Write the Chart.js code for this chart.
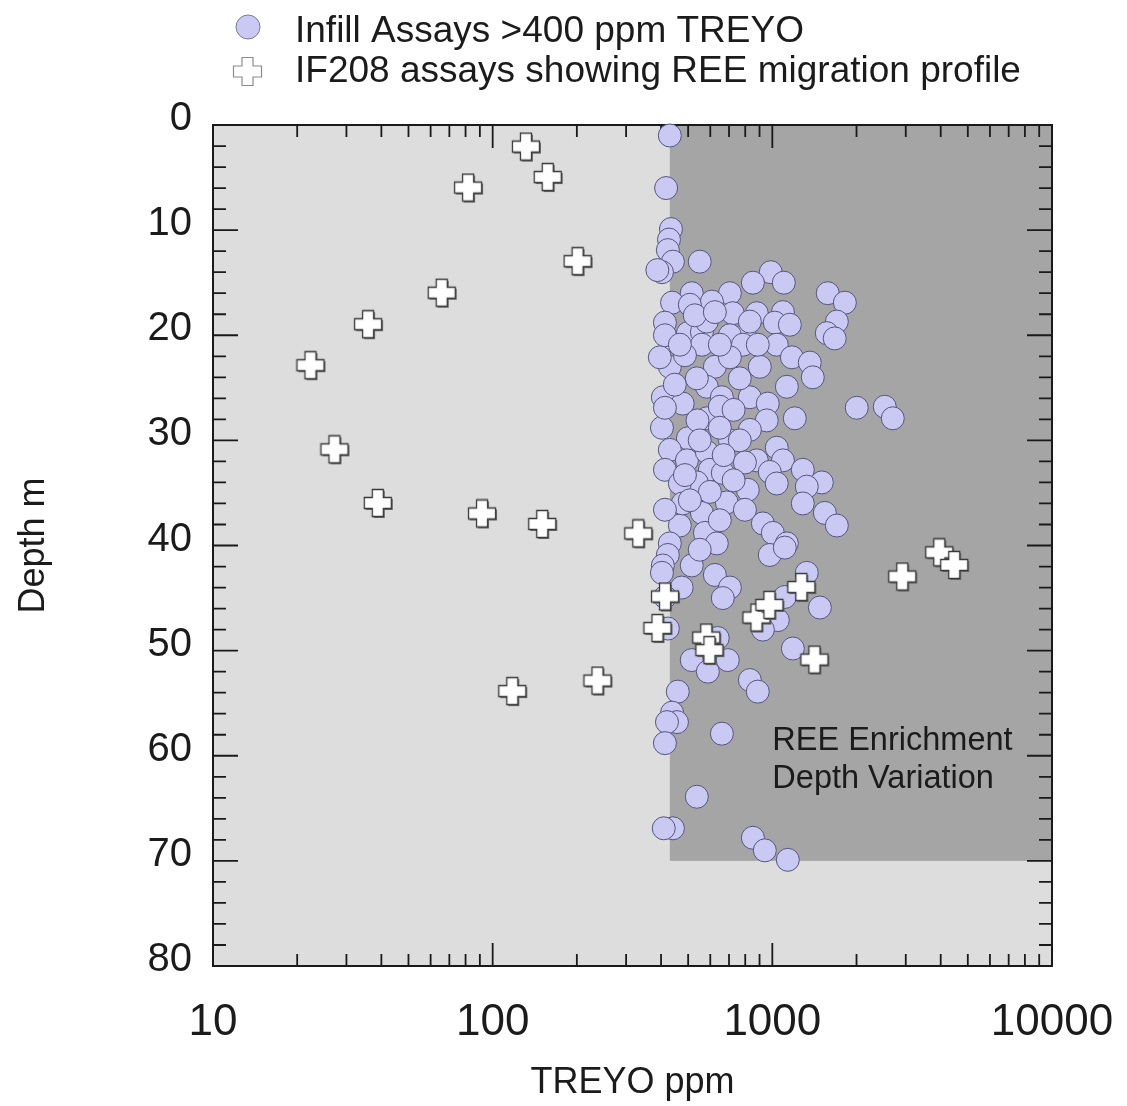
<!DOCTYPE html>
<html>
<head>
<meta charset="utf-8">
<title>TREYO vs depth</title>
<script src="https://cdn.jsdelivr.net/npm/chart.js@4.4.1/dist/chart.umd.min.js"></script>
<style>
    html, body { margin: 0; padding: 0; background: #ffffff; }
    #wrap { width: 1127px; height: 1106px; }
</style>
</head>
<body>
<div id="wrap"><canvas id="depthChart" width="1127" height="1106"></canvas></div>
<script>
const seriesNames = ['Infill Assays >400 ppm TREYO', 'IF208 assays showing REE migration profile'];

// Infill assays (circles): TREYO ppm and depth m
const infillTreyo = [
    430, 417, 434, 427, 423, 441, 403, 388, 550, 987, 852, 1099, 1578, 1817, 515, 705,
    438, 608, 507, 722, 880, 1091, 1020, 1155, 1701, 1566, 1671, 413, 413, 499, 560, 583,
    798, 705, 560, 785, 1037, 1175, 902, 1361, 1395, 430, 623, 396, 487, 705, 1127, 406,
    583, 660, 831, 963, 478, 2004, 2523, 2696, 1203, 955, 403, 413, 583, 649, 831, 499,
    705, 430, 495, 583, 413, 598, 665, 537, 467, 880, 1037, 1091, 979, 1037, 1285, 1503,
    1328, 817, 687, 1285, 1541, 1701, 560, 467, 478, 925, 1004, 574, 430, 633, 1127, 423,
    406, 515, 623, 705, 665, 474, 403, 979, 1108, 413, 1328, 1479, 1108, 1046, 925, 1184,
    423, 515, 693, 588, 638, 831, 887, 459, 438, 456, 420, 413, 660, 537, 441, 409,
    852, 940, 1136, 528, 623, 831, 467, 649, 887, 537, 765, 448, 727, 540, 649, 765,
    550, 670, 798, 487, 727, 598, 507, 798, 413, 649, 550
];
const infillDepth = [
    1.0, 6.0, 9.9, 10.9, 11.9, 13.0, 14.0, 13.8, 13.0, 14.0, 15.0, 15.0, 16.0, 16.9, 16.0, 16.0,
    16.9, 16.8, 17.1, 17.9, 17.9, 17.8, 18.8, 19.0, 18.7, 19.8, 20.3, 18.8, 20.0, 19.8, 19.7, 18.7,
    20.0, 20.0, 20.9, 20.9, 20.9, 22.1, 23.0, 22.6, 24.0, 23.0, 23.0, 22.1, 21.9, 22.1, 24.9, 25.9,
    24.9, 25.9, 25.9, 26.5, 26.5, 26.9, 26.8, 27.9, 27.9, 28.1, 28.8, 26.9, 27.9, 26.8, 29.0, 29.8,
    30.0, 30.9, 31.9, 31.1, 32.8, 32.8, 33.1, 34.0, 34.1, 31.9, 30.7, 31.9, 33.0, 34.1, 32.8, 34.0,
    34.4, 34.7, 35.9, 36.0, 36.9, 38.1, 36.9, 38.1, 36.0, 37.9, 38.8, 38.8, 39.8, 39.8, 39.8, 40.9,
    41.9, 41.9, 42.8, 44.0, 45.0, 44.0, 42.6, 40.9, 40.2, 44.9, 42.6, 45.9, 44.9, 47.1, 48.0, 49.8,
    47.9, 50.9, 50.9, 52.0, 48.8, 52.8, 53.9, 53.9, 55.9, 56.8, 56.8, 58.8, 57.9, 63.9, 66.9, 66.9,
    67.8, 69.0, 69.9, 18.1, 17.8, 18.7, 20.9, 20.9, 20.9, 24.1, 24.1, 24.7, 27.1, 28.1, 28.8, 30.0,
    30.0, 31.4, 32.1, 33.3, 33.8, 34.9, 35.7, 36.6, 36.6, 37.6, 40.4
];

// IF208 profile (crosses)
const if208Treyo = [132, 158, 82, 202, 66, 36, 22.4, 27.3, 39, 92, 151, 333, 390, 415, 238, 118,
    583, 598, 881, 980, 1275, 1420, 2927, 3970, 4490];
const if208Depth = [2.1, 5.0, 6.0, 13.0, 16.0, 19.0, 22.9, 30.9, 36.0, 37.0, 38.0, 38.9, 47.9, 44.9, 52.9, 53.9,
    48.8, 50.0, 46.9, 45.7, 44.0, 50.9, 43.0, 40.7, 41.9];

// enrichment zone: from 430 ppm upward, surface to 70 m
const enrichMinTreyo = 430;
const enrichMaxDepth = 70;
const enrichLabel = ['REE Enrichment', 'Depth Variation'];

const xTickValues = [10, 20, 30, 40, 50, 60, 70, 80, 90, 100, 200, 300, 400, 500, 600, 700, 800, 900,
    1000, 2000, 3000, 4000, 5000, 6000, 7000, 8000, 9000, 10000];
const xLabelValues = [10, 100, 1000, 10000];
const yLabelStep = 10;

const FONT = '"Liberation Sans", Arial, Helvetica, sans-serif';
const TEXT_COLOR = '#1b1b1b';
const CIRCLE_FILL = '#c9c9f4';
const CIRCLE_LINE = '#55557c';

function makePlus(size, arm, fill, stroke, lineWidth, shadow) {
    const c = document.createElement('canvas');
    c.width = size + 4;
    c.height = size + 4;
    const g = c.getContext('2d');
    const trace = (o) => {
        const a = (size - arm) / 2;
        g.beginPath();
        g.moveTo(o + a, o);
        g.lineTo(o + a + arm, o);
        g.lineTo(o + a + arm, o + a);
        g.lineTo(o + size, o + a);
        g.lineTo(o + size, o + a + arm);
        g.lineTo(o + a + arm, o + a + arm);
        g.lineTo(o + a + arm, o + size);
        g.lineTo(o + a, o + size);
        g.lineTo(o + a, o + a + arm);
        g.lineTo(o, o + a + arm);
        g.lineTo(o, o + a);
        g.lineTo(o + a, o + a);
        g.closePath();
    };
    if (shadow) {
        trace(3);
        g.fillStyle = shadow;
        g.fill();
    }
    trace(1.5);
    g.fillStyle = fill;
    g.fill();
    g.lineWidth = lineWidth;
    g.strokeStyle = stroke;
    g.stroke();
    return c;
}

const plotCross = makePlus(27, 11, '#ffffff', '#3a3a3a', 1.3, '#6b6b6b');
const legendCross = makePlus(28, 11, '#ffffff', '#8c8c8c', 1.2, null);

const backgroundPlugin = {
    id: 'zoneBackground',
    beforeDatasetsDraw(chart) {
        const { ctx, chartArea, scales } = chart;
        const { left, right, top, bottom } = chartArea;
        ctx.save();
        ctx.fillStyle = '#dcdddc';
        ctx.fillRect(left, top, right - left, bottom - top);

        const zx = scales.x.getPixelForValue(enrichMinTreyo);
        const zy = scales.y.getPixelForValue(enrichMaxDepth);
        ctx.fillStyle = '#a5a5a5';
        ctx.fillRect(zx, top, right - zx, zy - top);

        // label inside the zone, starting at 1000 ppm
        ctx.fillStyle = TEXT_COLOR;
        ctx.font = '32.5px ' + FONT;
        ctx.textBaseline = 'alphabetic';
        const tx = scales.x.getPixelForValue(1000);
        ctx.fillText(enrichLabel[0], tx, scales.y.getPixelForValue(59.5));
        ctx.fillText(enrichLabel[1], tx, scales.y.getPixelForValue(63.1));

        // frame with inward ticks on all sides
        ctx.strokeStyle = '#1a1a1a';
        ctx.lineWidth = 2;
        ctx.strokeRect(left, top, right - left, bottom - top);
        ctx.lineWidth = 1.8;
        ctx.beginPath();
        scales.x.ticks.forEach(t => {
            const px = scales.x.getPixelForValue(t.value);
            const len = xLabelValues.includes(t.value) ? 23 : 12;
            ctx.moveTo(px, bottom);
            ctx.lineTo(px, bottom - len);
            ctx.moveTo(px, top);
            ctx.lineTo(px, top + len);
        });
        scales.y.ticks.forEach(t => {
            const py = scales.y.getPixelForValue(t.value);
            const len = t.value % yLabelStep === 0 ? 25 : 13;
            ctx.moveTo(left, py);
            ctx.lineTo(left + len, py);
            ctx.moveTo(right, py);
            ctx.lineTo(right - len, py);
        });
        ctx.stroke();
        ctx.restore();
    }
};

const legendPlugin = {
    id: 'topLegend',
    afterDraw(chart) {
        const ctx = chart.ctx;
        ctx.save();
        ctx.beginPath();
        ctx.arc(248, 27, 12, 0, Math.PI * 2);
        ctx.fillStyle = CIRCLE_FILL;
        ctx.fill();
        ctx.lineWidth = 1;
        ctx.strokeStyle = '#7a7a96';
        ctx.stroke();
        ctx.drawImage(legendCross, 248 - legendCross.width / 2, 72 - legendCross.height / 2);

        ctx.fillStyle = TEXT_COLOR;
        ctx.font = '37px ' + FONT;
        ctx.textBaseline = 'alphabetic';
        ctx.fillText(seriesNames[0], 295, 42);
        ctx.fillText(seriesNames[1], 295, 82);
        ctx.restore();
    }
};

const ctx = document.getElementById('depthChart').getContext('2d');
new Chart(ctx, {
    type: 'scatter',
    data: {
        datasets: [
            {
                label: seriesNames[1],
                data: if208Treyo.map((v, i) => ({ x: v, y: if208Depth[i] })),
                pointStyle: plotCross,
                order: 1,
                clip: false
            },
            {
                label: seriesNames[0],
                data: infillTreyo.map((v, i) => ({ x: v, y: infillDepth[i] })),
                pointStyle: 'circle',
                pointRadius: 11.5,
                backgroundColor: CIRCLE_FILL,
                borderColor: CIRCLE_LINE,
                borderWidth: 1,
                order: 2,
                clip: false
            }
        ]
    },
    options: {
        responsive: false,
        devicePixelRatio: 1,
        animation: false,
        layout: { padding: { top: 125, right: 75, left: 0, bottom: 0 } },
        plugins: {
            legend: { display: false },
            tooltip: { enabled: false }
        },
        scales: {
            x: {
                type: 'logarithmic',
                position: 'bottom',
                min: 10,
                max: 10000,
                afterBuildTicks: scale => { scale.ticks = xTickValues.map(v => ({ value: v })); },
                afterFit: scale => {
                    scale.height = 140;
                    scale.paddingLeft = 0;
                    scale.paddingRight = 0;
                },
                grid: { display: false, drawTicks: false },
                border: { display: false },
                ticks: {
                    autoSkip: false,
                    maxRotation: 0,
                    padding: 30,
                    color: TEXT_COLOR,
                    font: { family: FONT, size: 44 },
                    callback: v => xLabelValues.includes(v) ? String(v) : ''
                },
                title: {
                    display: true,
                    text: 'TREYO ppm',
                    color: TEXT_COLOR,
                    font: { family: FONT, size: 36 },
                    padding: { top: 0, bottom: 1 }
                }
            },
            y: {
                type: 'linear',
                reverse: true,
                min: 0,
                max: 80,
                afterFit: scale => { scale.width = 213; },
                grid: { display: false, drawTicks: false },
                border: { display: false },
                ticks: {
                    stepSize: 2,
                    autoSkip: false,
                    padding: 21,
                    labelOffset: -6,
                    color: TEXT_COLOR,
                    font: { family: FONT, size: 40 },
                    callback: v => v % yLabelStep === 0 ? String(v) : ''
                },
                title: {
                    display: true,
                    text: 'Depth m',
                    color: TEXT_COLOR,
                    font: { family: FONT, size: 36 },
                    padding: { top: 12, bottom: 0 }
                }
            }
        }
    },
    plugins: [backgroundPlugin, legendPlugin]
});
</script>
</body>
</html>
